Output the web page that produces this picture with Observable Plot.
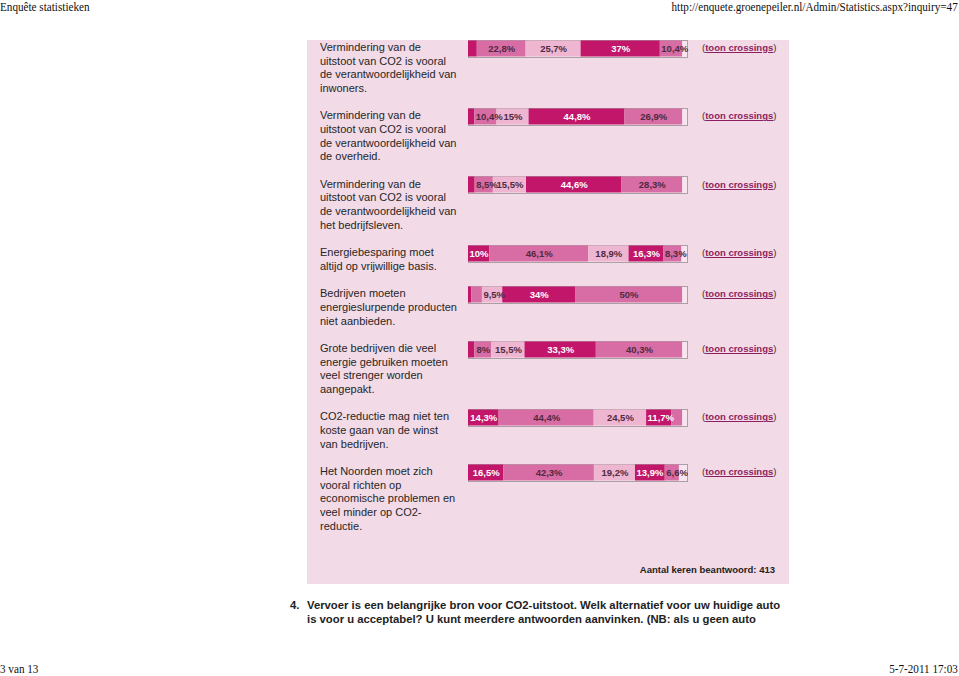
<!DOCTYPE html>
<html>
<head>
<meta charset="utf-8">
<script src="https://cdn.jsdelivr.net/npm/d3@7"></script>
<script src="https://cdn.jsdelivr.net/npm/@observablehq/plot@0.6"></script>
<style>
  html, body { margin: 0; padding: 0; background: #fff; }
  body { width: 959px; height: 676px; position: relative; overflow: hidden; font-family: "Liberation Sans", Arial, sans-serif; }
  .hdr { position: absolute; font: 12px/14px "Liberation Serif", "Times New Roman", serif; color: #111; white-space: nowrap; }
  .hl { left: 0; top: 0; transform: scaleX(0.93); transform-origin: left center; }
  .hr { right: 1px; top: 0; transform: scaleX(0.93); transform-origin: right center; }
  .fl { left: 0; top: 662px; transform: scaleX(0.93); transform-origin: left center; }
  .fr { right: 1px; top: 662px; transform: scaleX(0.93); transform-origin: right center; }
  .panel { position: absolute; left: 307px; top: 40px; width: 482px; height: 544px; background: #f2dae6; }
  .rows { position: absolute; left: 13px; top: 1px; width: 460px; }
  .row { position: relative; margin-bottom: 14px; }
  .label { width: 150px; font: 11px/13.6px "Liberation Sans", Arial, sans-serif; color: #262626; }
  .chart { position: absolute; left: 147px; top: -2.5px; width: 221px; height: 19px; }
  .chart svg { display: block; max-width: none !important; width: 221px; height: 19px; }
  .link { position: absolute; left: 382px; top: 0; font: 9.5px/13.6px "Liberation Sans", Arial, sans-serif; color: #333; white-space: nowrap; }
  .link b { color: #8c1f5f; text-decoration: underline; }
  .count { position: absolute; right: 14px; top: 524px; font: bold 9.5px/12px "Liberation Sans", Arial, sans-serif; color: #222; }
  .q { position: absolute; left: 290px; top: 598px; font: bold 11.3px/14px "Liberation Sans", Arial, sans-serif; color: #222; }
  .q .num { position: absolute; left: 0; top: 0; }
  .q .txt { position: absolute; left: 17px; top: 0; width: 520px; white-space: nowrap; }
</style>
</head>
<body>
<div class="hdr hl">Enquête statistieken</div>
<div class="hdr hr">http://enquete.groenepeiler.nl/Admin/Statistics.aspx?inquiry=47</div>
<div class="panel">
  <div class="rows" id="rows"></div>
  <div class="count" id="count"></div>
</div>
<div class="q"><span class="num">4.</span><span class="txt" id="qtxt"></span></div>
<div class="hdr fl">3 van 13</div>
<div class="hdr fr">5-7-2011 17:03</div>
<script>
// Statements (line breaks as in the reference)
const statements = [
  ["Vermindering van de", "uitstoot van CO2 is vooral", "de verantwoordelijkheid van", "inwoners."],
  ["Vermindering van de", "uitstoot van CO2 is vooral", "de verantwoordelijkheid van", "de overheid."],
  ["Vermindering van de", "uitstoot van CO2 is vooral", "de verantwoordelijkheid van", "het bedrijfsleven."],
  ["Energiebesparing moet", "altijd op vrijwillige basis."],
  ["Bedrijven moeten", "energieslurpende producten", "niet aanbieden."],
  ["Grote bedrijven die veel", "energie gebruiken moeten", "veel strenger worden", "aangepakt."],
  ["CO2-reductie mag niet ten", "koste gaan van de winst", "van bedrijven."],
  ["Het Noorden moet zich", "vooral richten op", "economische problemen en", "veel minder op CO2-", "reductie."]
];

// Answer categories (colour order in the bars)
const categories = ["Antwoord 1", "Antwoord 2", "Antwoord 3", "Antwoord 4", "Antwoord 5"];

// Percentages per category, one value per statement
const cat1 = [4.1, 2.9, 3.1, 10, 1.5, 2.9, 14.3, 16.5];
const cat2 = [22.8, 10.4, 8.5, 46.1, 5, 8, 44.4, 42.3];
const cat3 = [25.7, 15, 15.5, 18.9, 9.5, 15.5, 24.5, 19.2];
const cat4 = [37, 44.8, 44.6, 16.3, 34, 33.3, 11.7, 13.9];
const cat5 = [10.4, 26.9, 28.3, 8.3, 50, 40.3, 5.1, 6.6];

const answeredCount = 413;
const linkText = "toon crossings";
const questionLines = [
  "Vervoer is een belangrijke bron voor CO2-uitstoot. Welk alternatief voor uw huidige auto",
  "is voor u acceptabel? U kunt meerdere antwoorden aanvinken. (NB: als u geen auto"
];

const dark = "#c2166b", medium = "#d86ca4", light = "#efb6d2";
const colorRange = [dark, medium, light, dark, medium];
const darkCats = new Set([categories[0], categories[3]]);
const series = [cat1, cat2, cat3, cat4, cat5];

const fmt = v => String(v).replace(".", ",") + "%";

// chart geometry
const W = 221, M = 1, xMax = 102.3;
const pxPerUnit = (W - 2 * M) / xMax;
const labelFont = "bold 9.5px 'Liberation Sans', Arial, sans-serif";
const ctx = document.createElement("canvas").getContext("2d");
ctx.font = labelFont;
const shown = d => d.value >= 6;
const fits = d => ctx.measureText(fmt(d.value)).width + 3 <= d.value * pxPerUnit;

function labelMark(data, anchor, isDark) {
  const stack = anchor === "start" ? Plot.stackX1 : Plot.stackX;
  return Plot.text(data, stack({
    x: "value", order: null,
    text: d => (shown(d) && darkCats.has(d.cat) === isDark && (anchor === "start" ? !fits(d) : fits(d))) ? fmt(d.value) : "",
    textAnchor: anchor === "start" ? "start" : "middle",
    dx: anchor === "start" ? 1 : 0,
    fill: isDark ? "white" : "#4f2a40",
    fontWeight: "bold", fontSize: 9.5
  }));
}

const rowsEl = document.getElementById("rows");
statements.forEach((lines, i) => {
  const row = document.createElement("div");
  row.className = "row";
  const label = document.createElement("div");
  label.className = "label";
  label.innerHTML = lines.join("<br>");
  row.appendChild(label);

  const data = categories.map((c, k) => ({cat: c, value: series[k][i]}));
  const chart = Plot.plot({
    width: W,
    height: 19,
    marginTop: 1, marginBottom: 1, marginLeft: M, marginRight: M,
    style: {background: "transparent", fontFamily: "'Liberation Sans', Arial, sans-serif", overflow: "visible"},
    x: {domain: [0, xMax], axis: null},
    y: {axis: null},
    color: {domain: categories, range: colorRange},
    marks: [
      Plot.frame({fill: "#f8e5ee", stroke: "#a8a0a4", strokeWidth: 1}),
      Plot.barX(data, Plot.stackX({x: "value", fill: "cat", order: null, insetTop: 0.5, insetBottom: 0.5})),
      labelMark(data, "middle", true),
      labelMark(data, "middle", false),
      labelMark(data, "start", true),
      labelMark(data, "start", false)
    ]
  });
  const wrap = document.createElement("div");
  wrap.className = "chart";
  wrap.appendChild(chart);
  row.appendChild(wrap);

  const link = document.createElement("div");
  link.className = "link";
  link.innerHTML = "(<b>" + linkText + "</b>)";
  row.appendChild(link);

  rowsEl.appendChild(row);
});

document.getElementById("count").textContent = "Aantal keren beantwoord: " + answeredCount;
document.getElementById("qtxt").innerHTML = questionLines.join("<br>");
</script>
</body>
</html>
